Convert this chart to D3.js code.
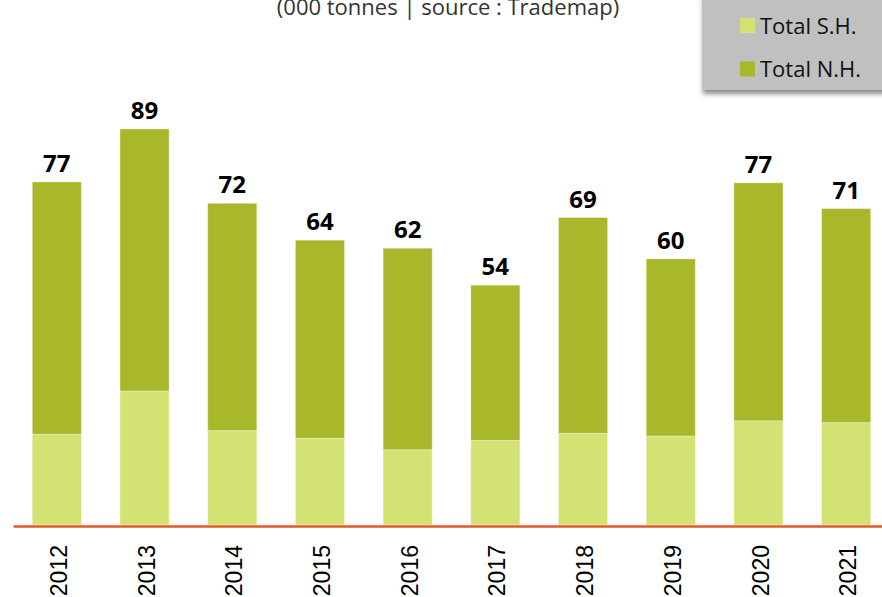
<!DOCTYPE html>
<html>
<head>
<meta charset="utf-8">
<script src="https://cdn.jsdelivr.net/npm/d3@7"></script>
<style>
  body { margin: 0; background: #fff; }
  svg { display: block; font-family: "Open Sans", "Noto Sans", sans-serif; }
</style>
</head>
<body>
<svg width="882" height="597"></svg>
<script>
// Chart values (000 tonnes)
const years = ["2012", "2013", "2014", "2015", "2016", "2017", "2018", "2019", "2020", "2021"];
const totalSH = [20.4, 30.1, 21.2, 19.5, 16.9, 19.0, 20.6, 20.0, 23.4, 23.0];
const totalNH = [56.7, 58.9, 51.1, 44.5, 45.3, 34.9, 48.5, 39.8, 53.5, 48.1];
const seriesNames = ["Total S.H.", "Total N.H."];
const colours = ["#d4e173", "#a8b82a"];

const width = 882;
const height = 597;
const baseline = 525;
const svg = d3.select("svg");

const rows = years.map((y, i) => ({ year: y, sh: totalSH[i], nh: totalNH[i] }));
const stack = d3.stack().keys(["sh", "nh"])(rows);

// Scales
const xScale = d3.scaleBand()
                 .domain(years)
                 .range([13, 890])
                 .paddingInner(0.44)
                 .paddingOuter(0.22);

const yScale = d3.scaleLinear()
                 .domain([0, 100])
                 .range([baseline, baseline - 445]);

// Stacked bars
svg.append("g")
  .selectAll("g")
  .data(stack)
  .enter()
  .append("g")
    .attr("fill", (d, i) => colours[i])
  .selectAll("rect")
  .data(d => d)
  .enter()
  .append("rect")
    .attr("x", d => xScale(d.data.year))
    .attr("y", d => yScale(d[1]))
    .attr("width", xScale.bandwidth())
    .attr("height", d => yScale(d[0]) - yScale(d[1]))
    .attr("stroke", "rgba(255,255,255,0.35)")
    .attr("stroke-width", 1);

// Total labels on top
svg.append("g")
  .selectAll("text")
  .data(rows)
  .enter()
  .append("text")
    .text(d => Math.round(d.sh + d.nh))
    .attr("x", d => xScale(d.year) + xScale.bandwidth() / 2)
    .attr("y", d => yScale(d.sh + d.nh) - 10)
    .style("text-anchor", "middle")
    .style("font-size", "24px")
    .style("font-weight", "bold")
    .style("fill", "#000");

// X axis with orange base line and rotated year labels
const xAxis = d3.axisBottom(xScale).tickSize(0).tickSizeOuter(0);
const gx = svg.append("g")
    .attr("transform", `translate(0,${baseline + 1})`)
    .call(xAxis);
gx.select(".domain")
    .attr("stroke", "#e05a2a")
    .attr("stroke-width", 2.5);
gx.selectAll(".tick text")
    .attr("transform", "rotate(-90)")
    .attr("x", -19)
    .attr("y", 2)
    .attr("dy", "0.35em")
    .style("text-anchor", "end")
    .style("font-family", "'Liberation Sans', Arial, sans-serif")
    .style("font-size", "23px")
    .style("fill", "#000");

// Subtitle (partly cut off at the top, as in the source)
svg.append("text")
    .text("(000 tonnes | source : Trademap)")
    .attr("x", 448)
    .attr("y", 15)
    .style("text-anchor", "middle")
    .style("font-size", "22px")
    .style("fill", "#333");

// Legend with drop shadow
const defs = svg.append("defs");
defs.append("filter")
    .attr("id", "shadow")
    .attr("x", "-10%").attr("y", "-10%")
    .attr("width", "130%").attr("height", "140%")
  .append("feDropShadow")
    .attr("dx", 1)
    .attr("dy", 4)
    .attr("stdDeviation", 2.5)
    .attr("flood-color", "#000")
    .attr("flood-opacity", 0.45);

const legend = svg.append("g");
legend.append("rect")
    .attr("x", 702)
    .attr("y", -5)
    .attr("width", 190)
    .attr("height", 95)
    .attr("fill", "#c0c0c0")
    .attr("filter", "url(#shadow)");

const items = legend.selectAll("g.item")
  .data(seriesNames)
  .enter()
  .append("g")
    .attr("class", "item")
    .attr("transform", (d, i) => `translate(740,${18 + i * 43.5})`);
items.append("rect")
    .attr("width", 15)
    .attr("height", 15)
    .attr("fill", (d, i) => colours[i]);
items.append("text")
    .text(d => d)
    .attr("x", 20)
    .attr("y", 15.5)
    .style("font-size", "22px")
    .style("fill", "#111");
</script>
</body>
</html>
